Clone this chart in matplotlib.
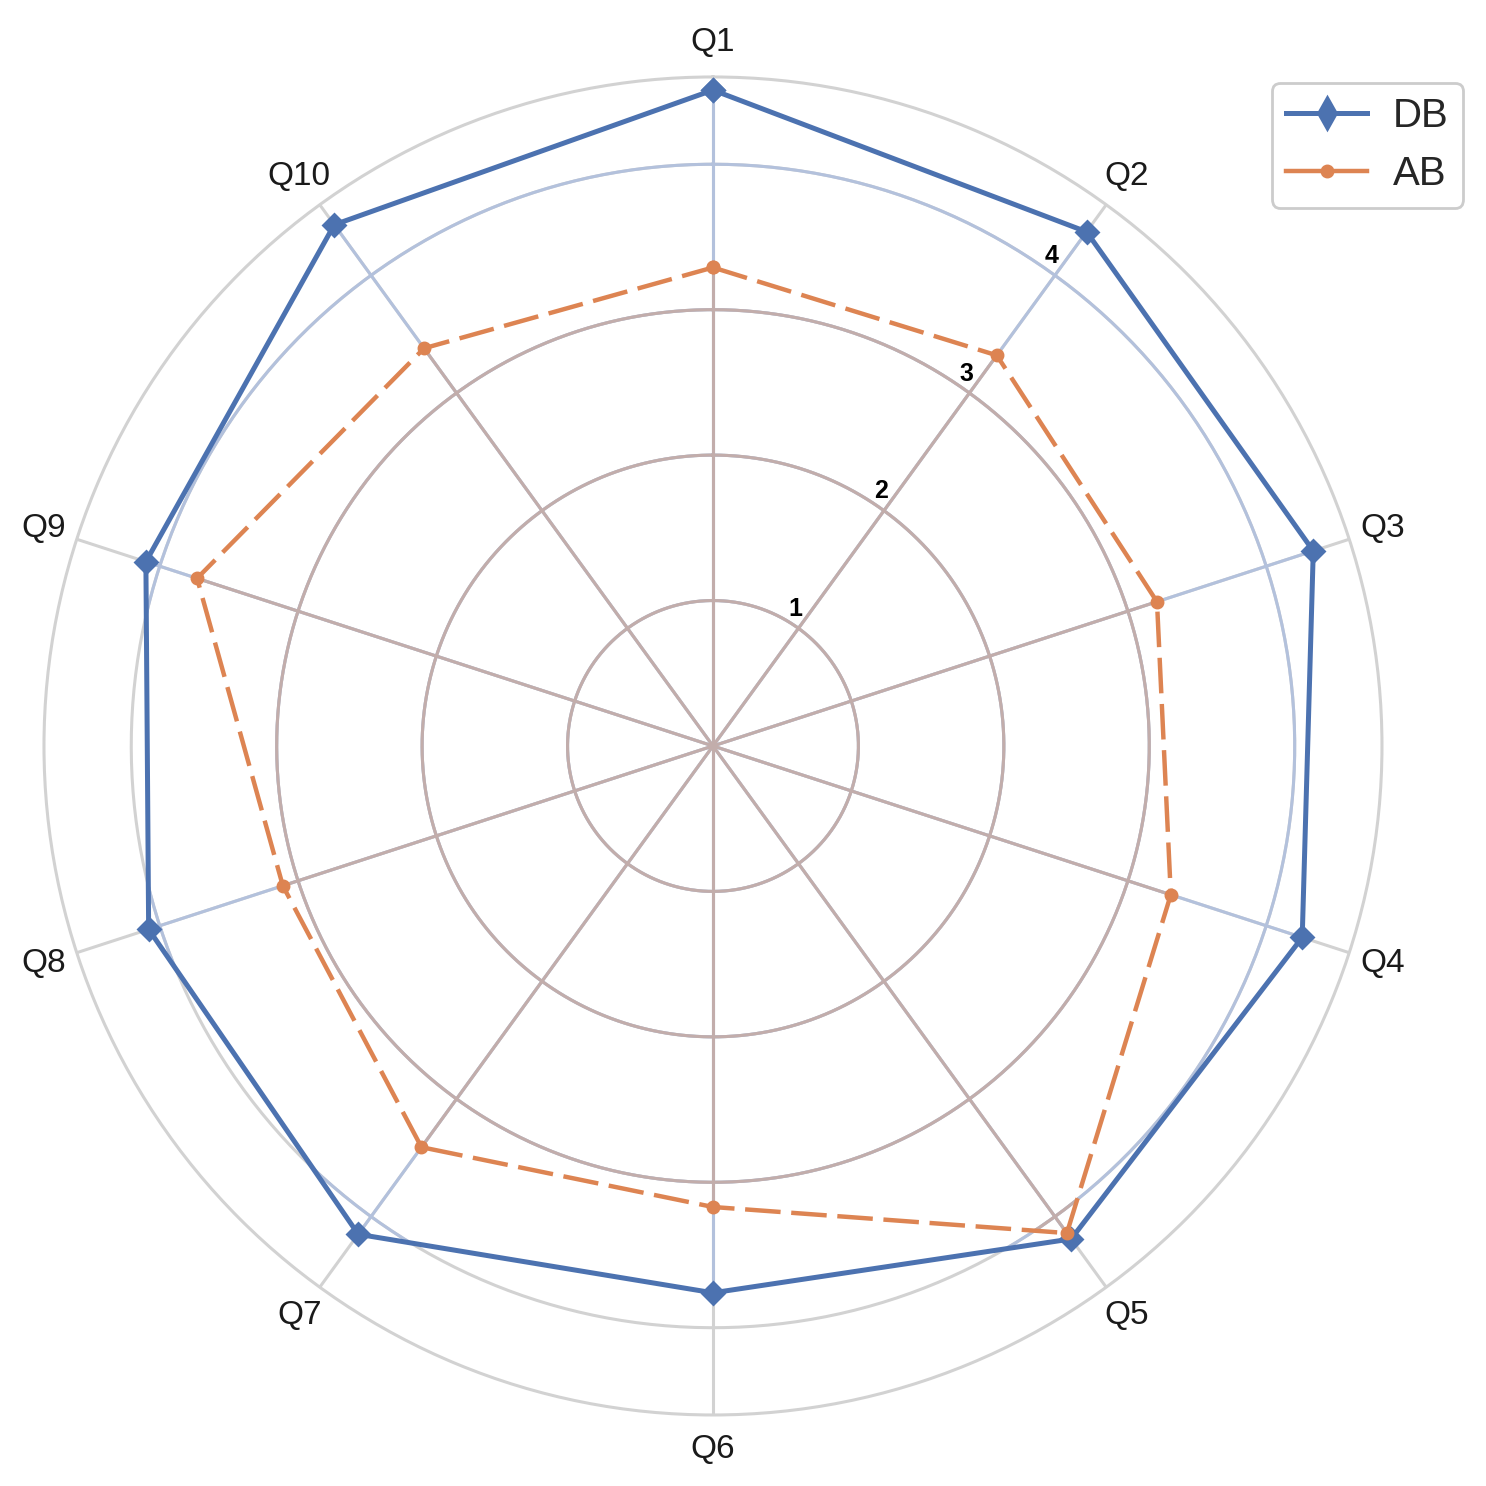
import numpy as np
import matplotlib.pyplot as plt
from matplotlib.patches import Polygon
from matplotlib.lines import Line2D

# data
categories = ['Q1', 'Q2', 'Q3', 'Q4', 'Q5', 'Q6', 'Q7', 'Q8', 'Q9', 'Q10']
db_scores = [4.51, 4.37, 4.34, 4.26, 4.19, 3.76, 4.15, 4.08, 4.10, 4.43]
ab_scores = [3.29, 3.32, 3.21, 3.31, 4.14, 3.17, 3.41, 3.11, 3.73, 3.38]
r_ticks = [1, 2, 3, 4]
r_max = 4.6

plt.rcParams['font.family'] = ['Liberation Sans', 'DejaVu Sans']

blue = '#4C72B0'
orange = '#DD8452'
grey = '#d2d2d2'
blue_tint = '#b3c1dc'
brown_tint = '#c2adab'

n = len(categories)
angles = np.linspace(0, 2 * np.pi, n, endpoint=False)
theta_c = np.append(angles, angles[0])
db_c = db_scores + db_scores[:1]
ab_c = ab_scores + ab_scores[:1]

fig = plt.figure(figsize=(7.43, 7.43), dpi=200)
ax = fig.add_axes([0.0296, 0.0478, 0.9004, 0.9004], projection='polar')
ax.set_theta_offset(np.pi / 2)
ax.set_theta_direction(-1)
ax.set_ylim(0, r_max)
ax.grid(False)
ax.spines['polar'].set_color(grey)
ax.spines['polar'].set_linewidth(1.1)


def draw_grid(color, clip=None):
    # spokes and rings drawn by hand so they can be tinted inside each polygon
    arts = []
    for a in angles:
        arts += ax.plot([a, a], [0, r_max], color=color, lw=1.1, zorder=1)
    t = np.linspace(0, 2 * np.pi, 500)
    for r in r_ticks:
        arts += ax.plot(t, np.full_like(t, r), color=color, lw=1.1, zorder=1)
    if clip is not None:
        for a in arts:
            a.set_clip_path(clip)


db_poly = Polygon(np.column_stack([theta_c, db_c]), closed=True, transform=ax.transData)
ab_poly = Polygon(np.column_stack([theta_c, ab_c]), closed=True, transform=ax.transData)
draw_grid(grey)
draw_grid(blue_tint, db_poly)
draw_grid(brown_tint, ab_poly)

ax.plot(theta_c, db_c, color=blue, lw=1.8, marker='D', markersize=5.5, zorder=3)
ax.plot(theta_c, ab_c, color=orange, lw=1.6, dashes=(8, 2.4), marker='o', markersize=4, zorder=3)

ax.set_xticks(angles)
ax.set_xticklabels(categories, fontsize=12, color='#1a1a1a')
ax.tick_params(axis='x', pad=2)

# radial labels sit just left of the Q2 spoke
ax.set_yticks(r_ticks)
ax.set_yticklabels([])
for r in r_ticks:
    ax.annotate(str(r), xy=(angles[1], r), xytext=(-1.2, 6.9), textcoords='offset points',
                ha='center', va='center', fontsize=9, color='black', fontweight='bold', zorder=4)

handles = [
    Line2D([], [], color=blue, lw=1.8, marker='d', markersize=8),
    Line2D([], [], color=orange, lw=1.6, marker='o', markersize=4),
]
leg = ax.legend(handles, ['DB', 'AB'], loc='upper right', bbox_to_anchor=(0.9845, 0.944),
                bbox_transform=fig.transFigure, borderaxespad=0, fontsize=14.5, frameon=True,
                fancybox=True, edgecolor='#cccccc', framealpha=1, borderpad=0.35,
                handletextpad=0.65)
for txt in leg.get_texts():
    txt.set_color('#262626')

fig.savefig('out.png', dpi=200)
